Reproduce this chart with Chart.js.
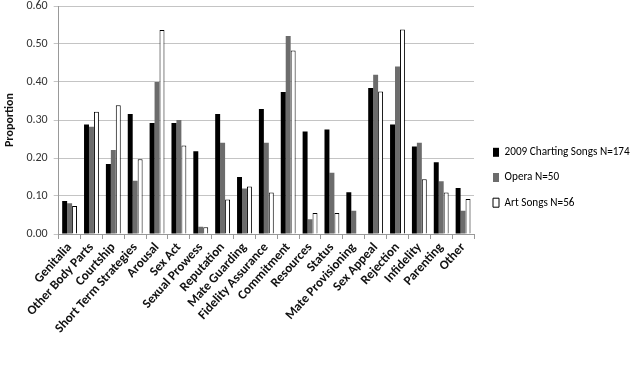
<!DOCTYPE html>
<html>
<head>
<meta charset="utf-8">
<script src="https://cdn.jsdelivr.net/npm/chart.js@4/dist/chart.umd.min.js"></script>
<style>
  html, body { margin: 0; padding: 0; background: #fff; }
  #wrap { width: 634px; height: 381px; position: relative; }
</style>
</head>
<body>
<div id="wrap"><canvas id="chart"></canvas></div>
<script>
const categories = ['Genitalia', 'Other Body Parts', 'Courtship', 'Short Term Strategies', 'Arousal', 'Sex Act',
  'Sexual Prowess', 'Reputation', 'Mate Guarding', 'Fidelity Assurance', 'Commitment', 'Resources', 'Status',
  'Mate Provisioning', 'Sex Appeal', 'Rejection', 'Infidelity', 'Parenting', 'Other'];
const charting = [0.087, 0.288, 0.184, 0.316, 0.292, 0.292, 0.218, 0.316, 0.150, 0.329, 0.374, 0.270, 0.275, 0.110, 0.384, 0.288, 0.230, 0.189, 0.121];
const opera    = [0.081, 0.282, 0.221, 0.140, 0.400, 0.300, 0.019, 0.240, 0.120, 0.240, 0.521, 0.039, 0.161, 0.061, 0.419, 0.441, 0.240, 0.139, 0.061];
const artSongs = [0.074, 0.322, 0.339, 0.197, 0.537, 0.233, 0.018, 0.091, 0.125, 0.109, 0.483, 0.055, 0.055, 0.000, 0.375, 0.538, 0.144, 0.109, 0.092];
const seriesNames = ['2009 Charting Songs N=174', 'Opera N=50', 'Art Songs N=56'];
const yTicks = [0, 0.1, 0.2, 0.3, 0.4, 0.5, 0.6];

const FONT = "Carlito, 'Liberation Sans Narrow', 'DejaVu Sans Condensed', 'Liberation Sans', sans-serif";

new Chart(document.getElementById('chart'), {
  type: 'bar',
  data: {
    labels: categories,
    datasets: [
      { label: seriesNames[0], data: charting, backgroundColor: '#000', borderColor: '#000', borderWidth: 0 },
      { label: seriesNames[1], data: opera, backgroundColor: '#6c6c6c', borderColor: '#6c6c6c', borderWidth: 0 },
      { label: seriesNames[2], data: artSongs, backgroundColor: '#fff', borderColor: '#000', borderWidth: 1 }
    ]
  },
  options: {
    responsive: true, maintainAspectRatio: false, animation: false,
    categoryPercentage: 0.68, barPercentage: 1,
    // bottom padding also centres the right-hand legend where the original has it
    layout: { padding: { top: 6, left: 3, right: 0, bottom: 32 } },
    plugins: {
      tooltip: { enabled: false },
      legend: {
        position: 'right', maxWidth: 155,
        labels: {
          boxWidth: 6, boxHeight: 9, padding: 14, color: '#222',
          font: { family: FONT, size: 11.2 },
          generateLabels: chart => chart.data.datasets.map((d, i) => ({
            text: d.label, fillStyle: d.backgroundColor, strokeStyle: '#000',
            lineWidth: i === 2 ? 1 : 0, datasetIndex: i, hidden: false
          }))
        }
      }
    },
    scales: {
      x: {
        grid: { display: true, drawOnChartArea: false, offset: true, tickLength: 5, color: '#999' },
        border: { color: '#999' },
        ticks: { maxRotation: 48, minRotation: 48, autoSkip: false, padding: 1, color: '#111',
                 font: { family: FONT, size: 13, weight: 'bold' } },
        afterFit: s => { s.height = 115; }
      },
      y: {
        min: 0, max: 0.6,
        afterBuildTicks: s => { s.ticks = yTicks.map(v => ({ value: v })); },
        afterFit: s => { s.paddingTop = 0; },
        grid: { color: '#c4c4c4', tickLength: 5 },
        border: { color: '#999' },
        ticks: { color: '#333', padding: 6, font: { family: FONT, size: 12 },
                 callback: v => v.toFixed(2) },
        title: { display: true, text: 'Proportion', color: '#111', padding: { top: 0, bottom: 3 },
                 font: { family: FONT, size: 12, weight: 'bold' } }
      },
      // empty spacer between plot and legend
      gap: {
        position: 'right', display: true,
        grid: { display: false, drawTicks: false }, border: { display: false },
        ticks: { display: false },
        afterFit: s => { s.width = 5; }
      }
    }
  }
});
</script>
</body>
</html>
